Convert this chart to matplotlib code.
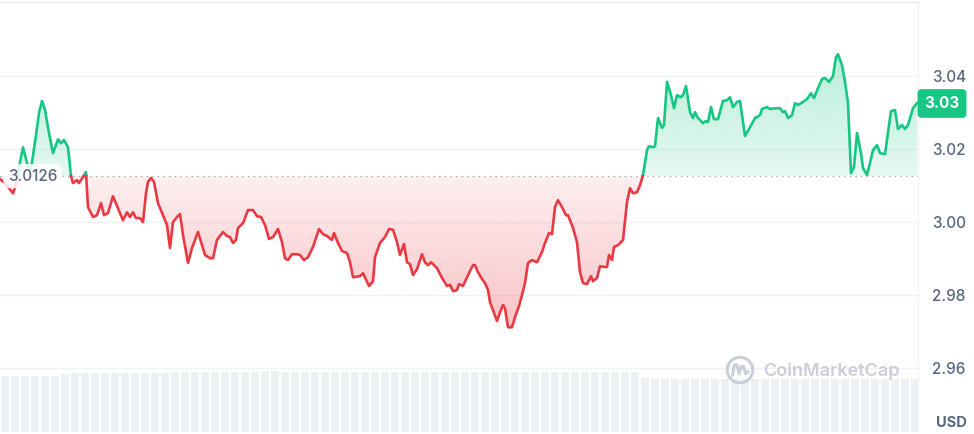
import numpy as np
import matplotlib
matplotlib.use("Agg")
import matplotlib.pyplot as plt
from matplotlib.path import Path
from matplotlib.patches import Circle

plt.rcParams['font.family'] = ['Inter', 'DejaVu Sans']

# price series (time index across the day, price in USD)
t = [0, 5, 9, 13, 16, 20, 23, 27, 30, 32, 36, 39, 42, 45, 49, 53, 56, 58, 61, 64,
     68, 71, 73, 77, 79, 83, 86, 88, 93, 97, 101, 104, 108, 113, 118, 123, 127, 130, 133, 136,
     140, 143, 146, 148, 151, 154, 158, 162, 167, 170, 173, 177, 180, 183, 188, 192, 198, 205, 210, 213,
     217, 223, 227, 230, 233, 236, 238, 243, 248, 253, 257, 261, 265, 269, 273, 278, 282, 285, 288, 292,
     297, 300, 304, 308, 313, 319, 323, 327, 332, 334, 338, 342, 347, 350, 353, 360, 363, 369, 373, 375,
     380, 385, 389, 393, 397, 400, 404, 407, 410, 413, 417, 422, 425, 428, 431, 437, 442, 447, 450, 453,
     457, 459, 463, 467, 470, 473, 475, 478, 482, 485, 488, 490, 493, 497, 500, 503, 505, 508, 512, 515,
     519, 522, 525, 528, 532, 537, 542, 545, 549, 552, 555, 558, 562, 566, 568, 573, 577, 580, 583, 587,
     591, 593, 597, 600, 604, 607, 609, 612, 614, 618, 623, 627, 630, 633, 637, 640, 643, 647, 649, 653,
     655, 658, 662, 664, 667, 671, 674, 677, 681, 683, 686, 690, 693, 695, 698, 703, 706, 708, 711, 714,
     718, 723, 727, 730, 733, 737, 740, 745, 750, 755, 760, 762, 767, 770, 777, 780, 783, 785, 788, 792,
     795, 798, 803, 807, 811, 814, 818, 822, 825, 829, 833, 836, 838, 842, 845, 848, 851, 854, 857, 861,
     863, 867, 870, 873, 877, 880, 885, 887, 891, 895, 898, 902, 905, 908, 913, 917]
price = [3.0118, 3.0107, 3.0093, 3.0079, 3.0104, 3.0164, 3.0205, 3.0162, 3.0140, 3.0164,
         3.0238, 3.0299, 3.0332, 3.0307, 3.0244, 3.0189, 3.0211, 3.0227, 3.0216, 3.0225,
         3.0205, 3.0126, 3.0107, 3.0115, 3.0107, 3.0123, 3.0137, 3.0041, 3.0014, 3.0019,
         3.0052, 3.0019, 3.0025, 3.0071, 3.0038, 3.0005, 3.0027, 3.0014, 3.0027, 3.0011,
         3.0011, 3.0000, 3.0079, 3.0110, 3.0121, 3.0110, 3.0052, 3.0025, 2.9992, 2.9929,
         3.0000, 3.0014, 3.0022, 2.9965, 2.9888, 2.9929, 2.9973, 2.9910, 2.9901, 2.9901,
         2.9951, 2.9973, 2.9962, 2.9959, 2.9943, 2.9951, 2.9984, 2.9997, 3.0033, 3.0033,
         3.0016, 3.0014, 2.9992, 2.9954, 2.9959, 2.9981, 2.9945, 2.9901, 2.9896, 2.9912,
         2.9912, 2.9910, 2.9896, 2.9904, 2.9932, 2.9981, 2.9967, 2.9962, 2.9951, 2.9970,
         2.9943, 2.9921, 2.9915, 2.9890, 2.9849, 2.9852, 2.9860, 2.9825, 2.9838, 2.9904,
         2.9943, 2.9959, 2.9981, 2.9979, 2.9945, 2.9910, 2.9940, 2.9890, 2.9885, 2.9855,
         2.9871, 2.9912, 2.9890, 2.9882, 2.9890, 2.9874, 2.9847, 2.9825, 2.9828, 2.9811,
         2.9814, 2.9830, 2.9825, 2.9849, 2.9866, 2.9882, 2.9882, 2.9863, 2.9844, 2.9833,
         2.9814, 2.9781, 2.9759, 2.9729, 2.9753, 2.9773, 2.9764, 2.9712, 2.9712, 2.9740,
         2.9770, 2.9800, 2.9833, 2.9888, 2.9896, 2.9890, 2.9918, 2.9943, 2.9970, 2.9967,
         3.0041, 3.0060, 3.0041, 3.0019, 3.0019, 2.9984, 2.9945, 2.9863, 2.9833, 2.9830,
         2.9852, 2.9838, 2.9847, 2.9879, 2.9877, 2.9877, 2.9910, 2.9896, 2.9932, 2.9937,
         2.9951, 3.0055, 3.0093, 3.0079, 3.0082, 3.0101, 3.0129, 3.0197, 3.0208, 3.0205,
         3.0208, 3.0285, 3.0258, 3.0266, 3.0384, 3.0348, 3.0312, 3.0348, 3.0342, 3.0348,
         3.0373, 3.0301, 3.0285, 3.0301, 3.0285, 3.0271, 3.0277, 3.0274, 3.0315, 3.0282,
         3.0282, 3.0332, 3.0334, 3.0342, 3.0315, 3.0329, 3.0332, 3.0236, 3.0260, 3.0285,
         3.0293, 3.0310, 3.0315, 3.0310, 3.0312, 3.0312, 3.0301, 3.0304, 3.0285, 3.0293,
         3.0326, 3.0321, 3.0329, 3.0337, 3.0353, 3.0340, 3.0367, 3.0392, 3.0395, 3.0384,
         3.0400, 3.0452, 3.0460, 3.0430, 3.0384, 3.0326, 3.0134, 3.0151, 3.0244, 3.0189,
         3.0148, 3.0129, 3.0162, 3.0197, 3.0211, 3.0189, 3.0186, 3.0225, 3.0304, 3.0307,
         3.0255, 3.0266, 3.0255, 3.0266, 3.0312, 3.0326]
base_price = 3.0126
last_label = "3.03"
yticks = [2.96, 2.98, 3.00, 3.02, 3.04]

# volume bars (millions), one bar per time slot
volume = [1.12, 1.12, 1.12, 1.12, 1.12, 1.13, 1.16, 1.18, 1.18, 1.18,
          1.18, 1.18, 1.18, 1.18, 1.18, 1.18, 1.18, 1.20, 1.20, 1.20,
          1.20, 1.20, 1.20, 1.20, 1.20, 1.21, 1.22, 1.22, 1.21, 1.20,
          1.20, 1.20, 1.20, 1.20, 1.20, 1.20, 1.21, 1.20, 1.20, 1.20,
          1.20, 1.20, 1.20, 1.20, 1.20, 1.20, 1.20, 1.20, 1.20, 1.20,
          1.20, 1.20, 1.20, 1.20, 1.20, 1.20, 1.20, 1.20, 1.20, 1.20,
          1.20, 1.20, 1.20, 1.20, 1.08, 1.07, 1.07, 1.07, 1.07, 1.07,
          1.07, 1.07, 1.07, 1.07, 1.07, 1.07, 1.07, 1.07, 1.07, 1.07,
          1.07, 1.07, 1.07, 1.07, 1.07, 1.07, 1.07, 1.07, 1.07, 1.07,
          1.07, 1.06]

GREEN = '#16c784'
RED = '#ea3943'
GREY = '#58667e'
GRID = '#eff2f5'

t = np.array(t, dtype=float)
price = np.array(price)


def split_at_base(x, y, base):
    xs, ys = [x[0]], [y[0]]
    for i in range(1, len(x)):
        a, b = y[i - 1] - base, y[i] - base
        if a * b < 0:
            f = a / (a - b)
            xs.append(x[i - 1] + f * (x[i] - x[i - 1]))
            ys.append(base)
        xs.append(x[i])
        ys.append(y[i])
    return np.array(xs), np.array(ys)


def gradient_fill(ax, x, lo, hi, y0, y1, color, a0, a1):
    coll = ax.fill_between(x, lo, hi, facecolor='none', edgecolor='none')
    rgb = matplotlib.colors.to_rgb(color)
    img = np.zeros((256, 1, 4))
    img[:, :, :3] = rgb
    img[:, 0, 3] = np.linspace(a0, a1, 256)
    im = ax.imshow(img, extent=[x.min(), x.max(), y0, y1], origin='lower',
                   aspect='auto', zorder=1, interpolation='bilinear')
    clip = Path.make_compound_path(*coll.get_paths())
    im.set_clip_path(clip, ax.transData)


W, H = 974, 434
fig = plt.figure(figsize=(W / 100, H / 100), dpi=100)
rect = [0, 2 / H, 918 / W, 430 / H]

# volume in the back
vax = fig.add_axes(rect, zorder=0)
vx = np.arange(len(volume)) * 10 + 5
vax.bar(vx, volume, width=8.8, color='#eef1f4', edgecolor='none')
vax.set_xlim(0, 918)
vax.set_ylim(0, 8.6)
vax.axis('off')

ax = fig.add_axes(rect, zorder=1)
ax.patch.set_visible(False)

tt, pp = split_at_base(t, price, base_price)
up = np.where(pp >= base_price, pp, np.nan)
down = np.where(pp <= base_price, pp, np.nan)

gradient_fill(ax, tt, base_price, np.maximum(pp, base_price),
              base_price, price.max(), GREEN, 0.11, 0.30)
gradient_fill(ax, tt, np.minimum(pp, base_price), base_price,
              price.min(), base_price, RED, 0.30, 0.08)
ax.set_xlim(0, 918)
ax.set_ylim(2.9425, 3.0603)

ax.plot(tt, up, color=GREEN, lw=1.9, zorder=3, solid_joinstyle='round')
ax.plot(tt, down, color=RED, lw=1.9, zorder=3, solid_joinstyle='round')
ax.axhline(base_price, color='#9aa3b2', lw=0.9, ls=(0, (1, 3.5)), zorder=2)

ax.set_yticks(yticks)
ax.set_yticklabels([f"{v:.2f}" for v in yticks], fontweight='medium')
ax.yaxis.tick_right()
ax.tick_params(axis='y', length=0, pad=10, labelsize=11, labelcolor=GREY)
ax.set_xticks([])
ax.grid(axis='y', color=GRID, lw=1)
ax.set_axisbelow(True)
for s in ['left', 'bottom']:
    ax.spines[s].set_visible(False)
ax.spines['top'].set_color('#e3e5e8')
ax.spines['right'].set_color(GRID)

# baseline label
ax.text(8, base_price, f"{base_price:.4f}", fontsize=11, color=GREY, va='center',
        ha='left', zorder=5, fontweight='medium',
        bbox=dict(boxstyle='round,pad=0.3,rounding_size=0.4', fc='white',
                  ec='none', alpha=0.85))

# current price tag
fig.text(942 / W, 1 - 103.5 / H, last_label, fontsize=11, fontweight='bold',
         color='white', ha='center', va='center',
         bbox=dict(boxstyle='round,pad=0.45,rounding_size=0.3', fc=GREEN, ec='none'))

fig.text(951 / W, 1 - 423 / H, "USD", fontsize=10.5, fontweight='bold', color=GREY,
         ha='center', va='center')

# watermark
wm = '#c9ced8'
fig.text(763 / W, 1 - 371 / H, "CoinMarketCap", fontsize=13, fontweight='semibold',
         color=wm, ha='left', va='center', zorder=2)
lax = fig.add_axes([725 / W, 1 - 385 / H, 30 / W, 30 / H], zorder=2)
lax.set_xlim(-1, 1)
lax.set_ylim(-1, 1)
lax.set_aspect('equal')
lax.axis('off')
lax.add_patch(Circle((0, 0), 0.85, fill=False, ec=wm, lw=2.2))
lax.plot([-0.5, -0.38, -0.22, -0.05, 0.08, 0.22, 0.38, 0.55],
         [-0.35, 0.35, 0.35, -0.25, 0.25, 0.25, -0.25, -0.1],
         color=wm, lw=2.2, solid_joinstyle='round', solid_capstyle='round')

fig.savefig("out.png", dpi=100)
